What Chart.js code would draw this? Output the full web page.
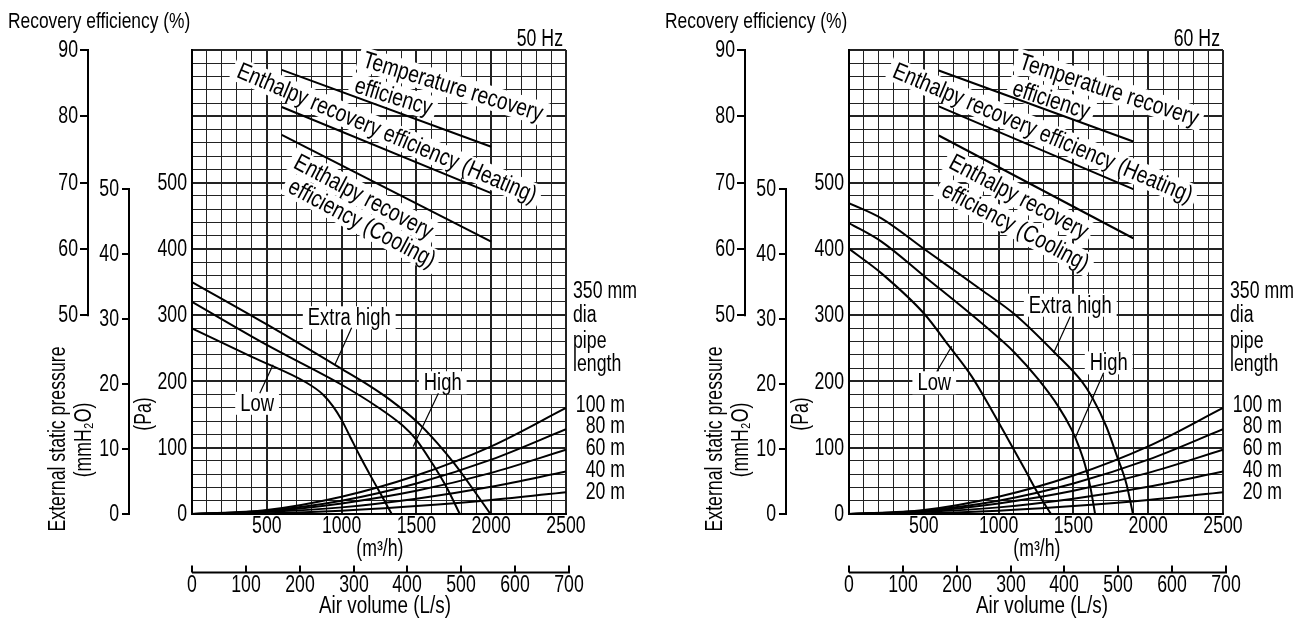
<!DOCTYPE html>
<html lang="en">
<head>
<meta charset="UTF-8">
<title>Recovery efficiency / external static pressure</title>
<script src="https://cdn.jsdelivr.net/npm/chart.js"></script>
<style>
  body { margin: 0; background: #fff; }
  .panel { position: absolute; top: 0; height: 620px; }
  #p50 { left: 0; width: 656px; }
  #p60 { left: 657px; width: 654px; }
</style>
</head>
<body>
<div class="panel" id="p50"><canvas id="chart50"></canvas></div>
<div class="panel" id="p60"><canvas id="chart60"></canvas></div>
<script>
const FONT = '"Liberation Sans", Arial, sans-serif';
const SIZE = 23;
const SQUEEZE = 0.77;   // the original lettering is a condensed face

// tick labels
const flowLabels = [500, 1000, 1500, 2000, 2500];        // m3/h
const paLabels = [0, 100, 200, 300, 400, 500];           // Pa
const effLabels = [50, 60, 70, 80, 90];                  // %
const mmLabels = [0, 10, 20, 30, 40, 50];                // mmH2O
const lsLabels = [0, 100, 200, 300, 400, 500, 600, 700]; // L/s
const pipeNames = ['100 m', '80 m', '60 m', '40 m', '20 m'];

// 50 Hz fan curves (air volume m3/h -> Pa)
const q50ExtraHigh = [0, 500, 1000, 1190, 1320, 1500, 1640, 1750, 1880, 1995];
const pa50ExtraHigh = [350, 286, 219, 193, 173, 140, 107, 77, 37, 0];
const q50High = [0, 500, 1000, 1230, 1410, 1500, 1610, 1700, 1790];
const pa50High = [320, 255, 195, 163, 133, 112, 75, 41, 0];
const q50Low = [0, 400, 766, 877, 944, 1000, 1056, 1123, 1190, 1257, 1335];
const pa50Low = [280, 237, 198, 180, 162, 142, 117, 87, 59, 32, 0];

// 60 Hz fan curves
const q60ExtraHigh = [0, 217, 507, 886, 1109, 1377, 1556, 1625, 1720, 1790, 1855, 1898];
const pa60ExtraHigh = [469, 446, 399, 338, 301, 243, 200, 176, 132, 88, 45, 0];
const q60High = [0, 217, 507, 886, 1109, 1266, 1400, 1489, 1533, 1578, 1612, 1645];
const pa60High = [439, 411, 358, 288, 243, 203, 162, 127, 104, 74, 42, 0];
const q60Low = [0, 217, 507, 663, 819, 953, 1065, 1176, 1266, 1350];
const pa60Low = [400, 363, 301, 255, 208, 157, 112, 67, 30, 0];

// 350 mm dia pipe resistance (Pa)
const pipeQ = [0, 500, 1000, 1500, 2000, 2500];
const pipe100 = [0, 6, 26, 58, 102, 160];
const pipe80 = [0, 5, 20, 46, 82, 128];
const pipe60 = [0, 4, 16, 35, 62, 97];
const pipe40 = [0, 3, 10, 23, 41, 64];
const pipe20 = [0, 1, 5, 12, 21, 33];

// recovery efficiency (%)
const effQ50 = [600, 2000];
const effTemp50 = [87.0, 75.4];
const effHeat50 = [81.4, 68.4];
const effCool50 = [77.2, 61.1];
const effQ60 = [600, 1900];
const effTemp60 = [86.9, 76.2];
const effHeat60 = [81.5, 69.0];
const effCool60 = [77.1, 61.6];

const PA_PER_MM = 9.80665;

// text placed on the grid, in data coordinates (m3/h, Pa)
const notes50 = {
  hz: '50 Hz',
  tags: [
    { text: 'Temperature recovery', q: 1743, pa: 645, rot: 17 },
    { text: 'efficiency', q: 1345, pa: 630, rot: 17 },
    { text: 'Enthalpy recovery efficiency (Heating)', q: 1301, pa: 575, rot: 23 },
    { text: 'Enthalpy recovery', q: 1145, pa: 479, rot: 28 },
    { text: 'efficiency (Cooling)', q: 1134, pa: 439, rot: 28 },
    { text: 'Extra high', q: 1051, pa: 296 },
    { text: 'High', q: 1676, pa: 198 },
    { text: 'Low', q: 435, pa: 167 }
  ],
  pointers: [[1067, 281, 955, 225], [1647, 182, 1479, 102], [453, 182, 542, 225]]
};
const notes60 = {
  hz: '60 Hz',
  tags: [
    { text: 'Temperature recovery', q: 1737, pa: 640, rot: 18 },
    { text: 'efficiency', q: 1350, pa: 625, rot: 18 },
    { text: 'Enthalpy recovery efficiency (Heating)', q: 1294, pa: 575, rot: 23 },
    { text: 'Enthalpy recovery', q: 1133, pa: 479, rot: 28 },
    { text: 'efficiency (Cooling)', q: 1110, pa: 434, rot: 28 },
    { text: 'Extra high', q: 1479, pa: 315 },
    { text: 'High', q: 1736, pa: 228 },
    { text: 'Low', q: 570, pa: 198 }
  ],
  pointers: [[1479, 298, 1368, 243], [1702, 213, 1513, 115], [587, 215, 687, 253]]
};

function curve(qs, vals, axis) {
  return {
    data: qs.map((q, i) => ({ x: q, y: vals[i] })),
    yAxisID: axis || 'y',
    borderColor: '#000',
    borderWidth: 2,
    pointRadius: 0,
    fill: false,
    cubicInterpolationMode: 'monotone'
  };
}

// condensed text: draw a regular face squeezed horizontally
function txt(ctx, s, x, y, align, rot, size, squeeze) {
  ctx.save();
  ctx.translate(x, y);
  if (rot) ctx.rotate(rot * Math.PI / 180);
  ctx.scale(squeeze || SQUEEZE, 1);
  ctx.font = (size || SIZE) + 'px ' + FONT;
  ctx.fillStyle = '#000';
  ctx.textAlign = align || 'center';
  ctx.textBaseline = 'middle';
  ctx.fillText(s, 0, 0);
  ctx.restore();
}

function whiteBox(ctx, s, x, y, rot, size, squeeze) {
  ctx.save();
  ctx.translate(x, y);
  if (rot) ctx.rotate(rot * Math.PI / 180);
  ctx.font = size + 'px ' + FONT;
  const w = ctx.measureText(s).width * squeeze;
  ctx.fillStyle = '#fff';
  ctx.fillRect(-w / 2 - 5, -size / 2, w + 10, size);
  ctx.restore();
}

const extras = {
  id: 'extras',
  beforeDatasetsDraw(chart, args, opts) {
    const ctx = chart.ctx, x = chart.scales.x, y = chart.scales.y;
    const tags = opts.notes.tags.map(t => ({
      s: t.text, px: x.getPixelForValue(t.q), py: y.getPixelForValue(t.pa), rot: t.rot || 0,
      size: t.rot ? 24 : 23, sq: t.rot ? 0.8 : 0.8
    }));
    tags.forEach(t => whiteBox(ctx, t.s, t.px, t.py, t.rot, t.size, t.sq));
    tags.forEach(t => txt(ctx, t.s, t.px, t.py + 1, 'center', t.rot, t.size, t.sq));
    ctx.save();
    ctx.strokeStyle = '#000';
    ctx.lineWidth = 1.2;
    opts.notes.pointers.forEach(p => {
      ctx.beginPath();
      ctx.moveTo(x.getPixelForValue(p[0]), y.getPixelForValue(p[1]));
      ctx.lineTo(x.getPixelForValue(p[2]), y.getPixelForValue(p[3]));
      ctx.stroke();
    });
    ctx.restore();
  },
  afterDraw(chart, args, opts) {
    const ctx = chart.ctx;
    const area = chart.chartArea;
    const L = area.left, R = area.right, B = area.bottom;
    const x = chart.scales.x, y = chart.scales.y;
    const yE = chart.scales.yEff, yM = chart.scales.yMm, xL = chart.scales.xLs;
    ctx.save();
    ctx.strokeStyle = '#000';
    ctx.lineWidth = 2;

    // main tick labels
    paLabels.forEach(v => txt(ctx, String(v), L - 5, y.getPixelForValue(v) + 1, 'right'));
    flowLabels.forEach(v => txt(ctx, String(v), x.getPixelForValue(v), B + 13, 'center'));

    txt(ctx, 'Recovery efficiency (%)', L - 184, 22, 'left', 0, 22, 0.79);

    // recovery efficiency axis
    const ex = L - 104;
    ctx.beginPath();
    ctx.moveTo(ex, yE.getPixelForValue(90) - 1);
    ctx.lineTo(ex, yE.getPixelForValue(50) + 1);
    ctx.stroke();
    effLabels.forEach(v => {
      const py = Math.round(yE.getPixelForValue(v));
      ctx.beginPath();
      ctx.moveTo(ex - 8, py);
      ctx.lineTo(ex, py);
      ctx.stroke();
      txt(ctx, String(v), ex - 10, py + 1, 'right');
    });

    // mmH2O axis
    const mx = L - 63;
    ctx.beginPath();
    ctx.moveTo(mx, yM.getPixelForValue(50) - 1);
    ctx.lineTo(mx, yM.getPixelForValue(0) + 1);
    ctx.stroke();
    mmLabels.forEach(v => {
      const py = Math.round(yM.getPixelForValue(v));
      ctx.beginPath();
      ctx.moveTo(mx - 7, py);
      ctx.lineTo(mx, py);
      ctx.stroke();
      txt(ctx, String(v), mx - 10, py + 1, 'right');
    });

    txt(ctx, 'External static pressure', L - 133, 439, 'center', -90);
    txt(ctx, '(mmH\u2082O)', L - 107, 440, 'center', -90);
    txt(ctx, '(Pa)', L - 47, 414, 'center', -90);

    txt(ctx, '(m\u00b3/h)', x.getPixelForValue(1256), 550, 'center');

    // L/s axis
    const ly = 572.5;
    ctx.beginPath();
    ctx.moveTo(xL.getPixelForValue(0), ly);
    ctx.lineTo(xL.getPixelForValue(700) + 1, ly);
    ctx.stroke();
    lsLabels.forEach(v => {
      const px = Math.round(xL.getPixelForValue(v));
      ctx.beginPath();
      ctx.moveTo(px, ly - 7);
      ctx.lineTo(px, ly);
      ctx.stroke();
      txt(ctx, String(v), px, 586, 'center');
    });
    txt(ctx, 'Air volume (L/s)', x.getPixelForValue(1290), 607, 'center', 0, 23, 0.82);

    txt(ctx, opts.notes.hz, R - 3, 40, 'right');

    ['350 mm', 'dia', 'pipe', 'length'].forEach((t, i) => txt(ctx, t, R + 7, [292, 316, 342, 365][i], 'left'));
    pipeNames.forEach((t, i) => txt(ctx, t, R + 59, [406, 427, 449, 471, 493][i], 'right'));
    ctx.restore();
  }
};

function makePanel(canvasId, fans, effQ, effs, notes, width) {
  const datasets = [
    ...fans.map(f => curve(f[0], f[1])),
    curve(pipeQ, pipe100), curve(pipeQ, pipe80), curve(pipeQ, pipe60), curve(pipeQ, pipe40), curve(pipeQ, pipe20),
    ...effs.map(e => curve(effQ, e, 'yEff'))
  ];
  return new Chart(document.getElementById(canvasId), {
    type: 'line',
    data: { datasets },
    plugins: [extras],
    options: {
      responsive: true,
      maintainAspectRatio: false,
      animation: false,
      layout: { padding: { left: 147, right: width - 566, top: 50, bottom: 70 } },
      plugins: {
        legend: { display: false },
        tooltip: { enabled: false },
        extras: { notes }
      },
      scales: {
        x: {
          type: 'linear', min: 0, max: 2500,
          border: { display: true, color: '#000', width: 2 },
          grid: {
            color: '#222',
            drawTicks: false,
            lineWidth: c => (c.tick && c.tick.value % 500 === 0) ? 2 : 1
          },
          ticks: { stepSize: 100, autoSkip: false, display: false },
          afterFit: s => { s.height = 36; }
        },
        y: {
          type: 'linear', min: 0, max: 700,
          border: { display: true, color: '#000', width: 2 },
          grid: {
            color: '#222',
            drawTicks: false,
            lineWidth: c => (c.tick && c.tick.value % 100 === 0) ? 2 : 1
          },
          ticks: { stepSize: 20, autoSkip: false, display: false },
          afterFit: s => { s.width = 45; }
        },
        yEff: { type: 'linear', display: false, min: 20, max: 90, position: 'left' },
        yMm: { type: 'linear', display: false, min: 0, max: 700 / PA_PER_MM, position: 'left' },
        xLs: { type: 'linear', display: false, min: 0, max: 2500 / 3.6, position: 'bottom' }
      }
    }
  });
}

makePanel('chart50',
  [[q50ExtraHigh, pa50ExtraHigh], [q50High, pa50High], [q50Low, pa50Low]],
  effQ50, [effTemp50, effHeat50, effCool50], notes50, 656);
makePanel('chart60',
  [[q60ExtraHigh, pa60ExtraHigh], [q60High, pa60High], [q60Low, pa60Low]],
  effQ60, [effTemp60, effHeat60, effCool60], notes60, 654);
</script>
</body>
</html>
